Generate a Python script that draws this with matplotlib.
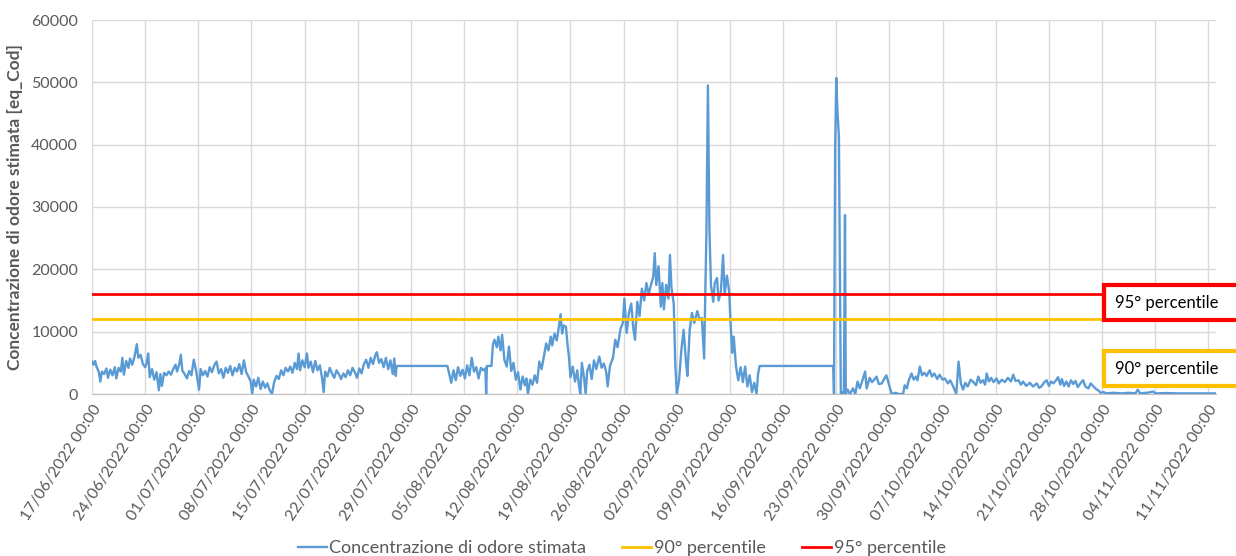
import numpy as np
import matplotlib
matplotlib.use("Agg")
import matplotlib.pyplot as plt
import matplotlib.dates as mdates
from matplotlib.patches import Rectangle

plt.rcParams['font.family'] = ['Lato', 'DejaVu Sans']

# giorni dal 17/06/2022 00:00 e concentrazione stimata [eq_Cod]
giorni = [
    0.0, 0.2, 0.4, 0.6, 0.9, 1.1, 1.3, 1.6, 1.9, 2.1, 2.4, 2.7, 3.0, 3.2, 3.5, 3.8,
    4.0, 4.2, 4.5, 4.8, 5.0, 5.3, 5.6, 5.9, 6.1, 6.4, 6.7, 7.0, 7.2, 7.4, 7.6, 7.9,
    8.2, 8.5, 8.8, 9.0, 9.2, 9.5, 9.8, 10.1, 10.4, 10.7, 11.0, 11.2, 11.5, 11.7, 11.9,
    12.2, 12.5, 12.8, 13.1, 13.4, 13.7, 14.1, 14.3, 14.6, 14.9, 15.2, 15.5, 15.8,
    16.1, 16.4, 16.7, 17.0, 17.3, 17.6, 17.9, 18.2, 18.5, 18.8, 19.1, 19.4, 19.7,
    20.0, 20.3, 20.6, 20.9, 21.1, 21.3, 21.6, 21.9, 22.2, 22.5, 22.8, 23.1, 23.4,
    23.7, 24.0, 24.3, 24.6, 24.9, 25.2, 25.5, 25.8, 26.1, 26.4, 26.7, 27.0, 27.2,
    27.4, 27.7, 28.0, 28.3, 28.5, 28.8, 29.1, 29.4, 29.7, 30.0, 30.3, 30.5, 30.7,
    31.0, 31.3, 31.6, 31.9, 32.2, 32.5, 32.8, 33.1, 33.4, 33.7, 34.0, 34.3, 34.6,
    34.9, 35.2, 35.5, 35.8, 36.1, 36.4, 36.7, 37.0, 37.3, 37.5, 37.8, 38.1, 38.4,
    38.7, 39.0, 39.3, 39.6, 39.8, 40.0, 40.1, 46.8, 47.0, 47.3, 47.6, 47.9, 48.2,
    48.5, 48.8, 49.1, 49.4, 49.7, 50.0, 50.3, 50.6, 50.9, 51.2, 51.5, 51.8, 51.9,
    52.0, 52.6, 52.8, 53.0, 53.3, 53.5, 53.8, 54.0, 54.3, 54.6, 54.9, 55.2, 55.5,
    55.8, 56.1, 56.4, 56.7, 57.0, 57.2, 57.4, 57.7, 58.0, 58.3, 58.6, 58.9, 59.2,
    59.5, 59.8, 60.1, 60.4, 60.6, 60.9, 61.2, 61.5, 61.7, 61.9, 62.1, 62.4, 62.6,
    62.8, 63.0, 63.3, 63.6, 63.9, 64.1, 64.3, 64.5, 64.8, 65.0, 65.2, 65.5, 65.8,
    66.1, 66.4, 66.8, 67.1, 67.4, 67.7, 67.9, 68.2, 68.6, 68.9, 69.2, 69.6, 69.9,
    70.1, 70.4, 70.7, 71.0, 71.3, 71.5, 71.8, 72.1, 72.4, 72.7, 73.0, 73.3, 73.6,
    73.9, 74.1, 74.3, 74.6, 74.9, 75.1, 75.3, 75.6, 75.9, 76.1, 76.3, 76.6, 76.8,
    77.0, 77.3, 77.6, 77.9, 78.2, 78.4, 78.7, 79.0, 79.3, 79.7, 80.0, 80.3, 80.6,
    80.9, 81.1, 81.3, 81.5, 81.8, 82.0, 82.3, 82.5, 82.8, 83.1, 83.3, 83.6, 83.9,
    84.1, 84.3, 84.5, 84.8, 85.1, 85.4, 85.7, 86.0, 86.3, 86.6, 86.9, 87.2, 87.5,
    87.7, 87.9, 97.6, 97.7, 97.85, 98.0, 98.15, 98.35, 98.5, 98.6, 98.8, 99.0,
    99.15, 99.25, 99.5, 99.8, 100.2, 100.5, 100.8, 101.1, 101.5, 101.8, 102.0,
    102.4, 102.7, 103.0, 103.3, 103.6, 104.0, 104.3, 104.6, 104.9, 105.3, 105.8,
    106.2, 106.8, 107.0, 107.3, 107.5, 107.9, 108.2, 108.5, 108.7, 109.0, 109.3,
    109.6, 109.9, 110.3, 110.6, 110.9, 111.3, 111.6, 112.0, 112.3, 112.7, 113.0,
    113.4, 113.8, 114.1, 114.4, 114.7, 115.0, 115.3, 115.7, 116.0, 116.4, 116.7,
    117.0, 117.3, 117.6, 117.8, 118.1, 118.4, 118.7, 119.1, 119.4, 119.8, 120.2,
    120.6, 121.0, 121.3, 121.6, 122.0, 122.3, 122.6, 123.0, 123.5, 123.9, 124.4,
    124.7, 125.0, 125.4, 125.7, 126.0, 126.3, 126.6, 127.0, 127.2, 127.5, 127.7,
    128.0, 128.3, 128.6, 128.9, 129.2, 129.5, 129.8, 130.2, 130.5, 130.8, 131.2,
    131.5, 131.8, 132.2, 132.5, 132.8, 133.2, 133.6, 134.5, 135.5, 136.5, 137.4,
    137.7, 138.0, 139.0, 139.7, 140.0, 141.5, 143.0, 145.0, 147.9,
]
conc = [
    5200, 4700, 5300, 4400, 3500, 2000, 3600, 3200, 4100, 2600, 3900, 3000, 4300, 2500, 4200, 3600,
    5800, 3100, 5300, 4200, 5700, 4700, 6000, 8000, 5800, 6300, 4800, 4300, 5000, 6500, 2700, 4000,
    2300, 3500, 600, 3200, 1300, 3400, 3000, 3600, 3100, 4000, 4700, 3600, 4800, 6300, 3700,
    3200, 2500, 3700, 3000, 5500, 3800, 700, 4000, 3000, 3700, 2800, 4300, 3500,
    4600, 5200, 3300, 4000, 2600, 4200, 3400, 4500, 3000, 4200, 3600, 4800, 3200,
    5400, 3500, 2800, 2000, 0, 2300, 1200, 2600, 800, 2000, 1000, 1700, 600,
    0, 2000, 2900, 2400, 3800, 3000, 4200, 3600, 4400, 3400, 5000, 4000, 6500,
    3800, 5400, 4300, 6500, 4200, 5200, 3500, 5300, 3800, 4600, 2500, 300, 3600,
    2800, 4200, 3300, 2600, 3800, 3200, 2400, 3300, 2700, 3800, 3000, 4200, 3500,
    2600, 4100, 3300, 4800, 5500, 4200, 5800, 4800, 6200, 6700, 5000, 5600, 4300,
    5800, 4000, 5400, 3200, 5700, 2900, 4500, 4500, 3400, 1800, 3800, 2200, 4300,
    2900, 3900, 2500, 4600, 3000, 5800, 3600, 4300, 2500, 4200, 3800, 4100, 0,
    4500, 4500, 8000, 8700, 7500, 9200, 7000, 9500, 5500, 4400, 7600, 3700, 5000,
    2300, 3500, 700, 2800, 1400, 2500, 0, 2300, 1500, 3000, 1800, 5200, 4000,
    6000, 8100, 7000, 9200, 7800, 9700, 8600, 11000, 12800, 9700, 11000, 10800, 8100,
    6000, 2700, 4400, 2000, 3800, 1500, 0, 5000, 2500, 0, 3600, 4700, 2400,
    5400, 4000, 6000, 4200, 4900, 3600, 1200, 4500, 5800, 8700, 7500, 10500, 11400,
    15300, 9800, 13000, 14500, 10300, 8700, 14800, 12500, 16900, 15000, 17800, 16000, 17500,
    18800, 22600, 17500, 20500, 14000, 17800, 13600, 17500, 15300, 22300, 17000, 14500, 5000,
    0, 2200, 7000, 10300, 5400, 2900, 10300, 13000, 11400, 13300, 11900, 12200, 5700,
    25800, 49500, 26300, 17500, 14800, 17800, 18600, 15000, 16400, 22300, 15900, 19000, 16400,
    11000, 6600, 9200, 4400, 2200, 4300, 1900, 4400, 1200, 3000, 300, 1800, 0,
    3200, 4500, 4500, 0, 39400, 50700, 45500, 41200, 16200, 0, 300, 0,
    28700, 0, 700, 0, 900, 0, 2000, 900, 2400, 3600, 900,
    2600, 1900, 2300, 2800, 1600, 1700, 2400, 3000, 1700, 0, 200,
    0, 0, 1400, 900, 2000, 3300, 2300, 2800, 2200, 4400, 3000,
    3400, 2900, 3800, 2800, 3300, 2400, 3100, 2300, 2500, 1700, 2200,
    1200, 0, 5200, 1700, 700, 1800, 1200, 2300, 2000, 1400, 2800,
    1800, 2200, 1500, 3300, 2000, 2600, 1900, 2500, 1700, 2300, 1900,
    2600, 2000, 3100, 2100, 2200, 1500, 2000, 1300, 1800, 1200, 1700,
    1000, 1200, 1900, 2200, 1300, 2000, 1700, 2300, 2700, 1500, 2400,
    1300, 2000, 1200, 2200, 1600, 2100, 1100, 1800, 2200, 1200, 900,
    1700, 1300, 800, 600, 200, 300, 100, 200, 100, 200, 100,
    700, 100, 200, 400, 100, 150, 100, 100, 100,
]

# percentili (costanti) disegnati fino al 28/10
giorni_perc = [0.0, 133.1]
p90 = [12000, 12000]
p95 = [16000, 16000]

inizio = np.datetime64('2022-06-17T00:00')
fine = np.datetime64('2022-11-12T00:00')
date_tick = np.arange(inizio, np.datetime64('2022-11-12T00:00'), np.timedelta64(7, 'D'))


def to_dates(days):
    return inizio + (np.array(days) * 24 * 60).astype('timedelta64[m]')


fig = plt.figure(figsize=(12.36, 5.56), dpi=100)
ax = fig.add_axes([92 / 1236, 1 - 394 / 556, (1216 - 92) / 1236, (394 - 20) / 556])

ax.plot(to_dates(giorni), conc, color='#5B9BD5', lw=1.7, label='Concentrazione di odore stimata', zorder=3)
ax.plot(to_dates(giorni_perc), p90, color='#FFC000', lw=2, label='90° percentile', zorder=4)
ax.plot(to_dates(giorni_perc), p95, color='#FF0000', lw=2, label='95° percentile', zorder=4)

ax.set_xlim(inizio, fine)
ax.set_ylim(0, 60000)
ax.set_yticks(np.arange(0, 60001, 10000))
ax.set_xticks(date_tick)
ax.xaxis.set_major_formatter(mdates.DateFormatter('%d/%m/%Y %H:%M'))
plt.setp(ax.get_xticklabels(), rotation=57, ha='right', rotation_mode='anchor')

ax.grid(True, color='#D9D9D9', lw=1)
ax.set_axisbelow(True)
for s in ['top', 'right', 'left']:
    ax.spines[s].set_visible(False)
ax.spines['bottom'].set_color('#BFBFBF')
ax.tick_params(axis='both', length=0, colors='#595959', labelsize=11.5)
ax.tick_params(axis='x', pad=6)
ax.tick_params(axis='y', pad=10)

ax.set_ylabel('Concentrazione di odore stimata [eq_Cod]', fontsize=12.5, fontweight='bold', color='#595959', labelpad=6)

# riquadri etichetta a destra
for y_top, col, txt in [(285, '#FF0000', '95° percentile'), (351, '#FFC000', '90° percentile')]:
    fig.add_artist(Rectangle((1104 / 1236, 1 - (y_top + 35) / 556), 0.2, 35 / 556,
                             transform=fig.transFigure, facecolor='white', edgecolor=col, lw=3, zorder=10))
    fig.text(1115 / 1236, 1 - (y_top + 18) / 556, txt, fontsize=12, color='black', va='center', zorder=11)

fig.legend(loc='lower center', bbox_to_anchor=(0.503, -0.03), ncol=3, frameon=False,
           fontsize=13, handlelength=1.6, columnspacing=2.0, handletextpad=0.15,
           labelcolor='#595959')

fig.savefig('out.png', dpi=100)
